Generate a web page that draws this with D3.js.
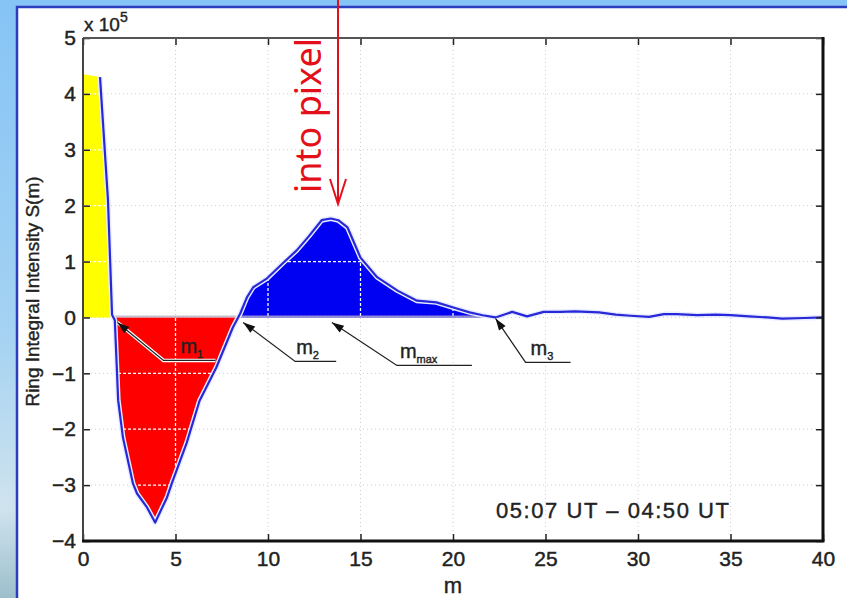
<!DOCTYPE html>
<html>
<head>
<meta charset="utf-8">
<script src="https://cdn.jsdelivr.net/npm/d3@7"></script>
<style>
  html, body { margin: 0; padding: 0; background: #8cc8f5; }
  svg { display: block; }
  .tick text { font-family: "Liberation Sans", Arial, sans-serif; fill: #222; stroke: #222; stroke-width: 0.45; }
  .lbl { stroke: #222; stroke-width: 0.4; }
</style>
</head>
<body>
<div class="chart"></div>
<script>
// ring index m and ring integral intensity S(m), in units of 1e5
const mValues = [0, 0.92, 1.35, 1.57, 1.72, 1.84, 1.9, 2.16, 2.7, 2.92, 3.46, 3.9,
  4.54, 4.8, 5.6, 6.3, 7.2, 8.1, 8.5, 8.86, 9.2, 9.95, 10.8, 11.55, 12.2, 12.9, 13.4,
  13.8, 14.3, 15.0, 15.9, 17.0, 18.05, 19.1, 20.2, 20.9, 21.6, 22.3, 23.2, 24.0, 24.9,
  25.8, 26.6, 27.9, 28.8, 29.6, 30.6, 31.4, 32.1, 33.2, 34.2, 35.0, 36.0, 37.0, 37.8,
  39.0, 40];
const sValues = [4.35, 4.3, 2.1, 0.05, -0.05, -1.0, -1.48, -2.15, -2.97, -3.15, -3.4, -3.67,
  -3.22, -2.97, -2.25, -1.49, -0.9, -0.18, 0.07, 0.36, 0.54, 0.7, 0.97, 1.2, 1.45, 1.74, 1.77,
  1.74, 1.61, 1.07, 0.72, 0.48, 0.3, 0.27, 0.16, 0.09, 0.04, 0.0, 0.1, 0.02, 0.1,
  0.1, 0.11, 0.09, 0.05, 0.03, 0.01, 0.06, 0.06, 0.04, 0.05, 0.04, 0.02, 0.0, -0.02,
  -0.01, 0.0];

const xTicks = [0, 5, 10, 15, 20, 25, 30, 35, 40];
const yTicks = [-4, -3, -2, -1, 0, 1, 2, 3, 4, 5];
const markerNames = [["m", "1"], ["m", "2"], ["m", "max"], ["m", "3"]];
const timeLabel = "05:07 UT \u2013 04:50 UT";
const yLabel = "Ring Integral Intensity S(m)";
const xLabel = "m";
const redNote = "into pixel";

const data = mValues.map((m, i) => ({ m: m, s: sValues[i] }));

const w = 847, h = 598;
const x = d3.scaleLinear().domain([0, 40]).range([83, 823]);
const y = d3.scaleLinear().domain([-4, 5]).range([541, 38]);

const svg = d3.select(".chart").append("svg").attr("width", w).attr("height", h);
const defs = svg.append("defs");

/* background: sky strip + white panel */
const bg = defs.append("linearGradient").attr("id", "sky")
  .attr("x1", 0).attr("y1", 0).attr("x2", 0).attr("y2", 1);
bg.append("stop").attr("offset", "0%").attr("stop-color", "#86c4f6");
bg.append("stop").attr("offset", "55%").attr("stop-color", "#a4d2f2");
bg.append("stop").attr("offset", "85%").attr("stop-color", "#cfe3ee");
bg.append("stop").attr("offset", "100%").attr("stop-color", "#9dbfcc");
svg.append("rect").attr("width", w).attr("height", h).attr("fill", "url(#sky)");
svg.append("rect").attr("x", 17).attr("y", 7).attr("width", w).attr("height", h)
  .attr("fill", "#fff").attr("stroke", "#2b3cbf").attr("stroke-width", 2.5);

/* zero crossings and the secondary maximum */
const crossings = [];
for (let i = 0; i < data.length - 1; i++) {
  const a = data[i], b = data[i + 1];
  if ((a.s > 0) !== (b.s > 0)) {
    crossings.push(a.m + (b.m - a.m) * a.s / (a.s - b.s));
  }
}
const m1 = crossings[0], m2 = crossings[1], m3 = crossings[2];
const lobe = data.filter(d => d.m > m2 && d.m < m3);
const mMax = lobe[d3.maxIndex(lobe, d => d.s)].m;

const region = (a, b) => {
  const pts = data.filter(d => d.m >= a && d.m <= b);
  return [{ m: a, s: 0 }].concat(pts, [{ m: b, s: 0 }]);
};
const area = d3.area().x(d => x(d.m)).y0(y(0)).y1(d => y(d.s));

const regions = [
  { pts: region(0, m1), color: "#ffff00" },
  { pts: region(m1, m2), color: "#ff0000" },
  { pts: region(m2, m3), color: "#0000f2" }
];

/* grid under fills */
const grid = svg.append("g").attr("stroke", "#cfcfcf").attr("stroke-dasharray", "1,3");
grid.selectAll(".gx").data(xTicks.slice(1, -1)).enter().append("line")
  .attr("x1", d => x(d)).attr("x2", d => x(d)).attr("y1", y(5)).attr("y2", y(-4));
grid.selectAll(".gy").data(yTicks.slice(1, -1)).enter().append("line")
  .attr("y1", d => y(d)).attr("y2", d => y(d)).attr("x1", x(0)).attr("x2", x(40));

/* filled lobes */
const clip = defs.append("clipPath").attr("id", "lobes");
regions.forEach(r => {
  svg.append("path").attr("d", area(r.pts)).attr("fill", r.color);
  clip.append("path").attr("d", area(r.pts));
});

/* white dotted grid over the fills */
const wgrid = svg.append("g").attr("clip-path", "url(#lobes)")
  .attr("stroke", "#fff").attr("stroke-width", 1.3).attr("stroke-dasharray", "3,2");
wgrid.selectAll(".wx").data(xTicks.slice(1, -1)).enter().append("line")
  .attr("x1", d => x(d)).attr("x2", d => x(d)).attr("y1", y(5)).attr("y2", y(-4));
wgrid.selectAll(".wy").data(yTicks.slice(1, -1).filter(d => d !== 0)).enter().append("line")
  .attr("y1", d => y(d)).attr("y2", d => y(d)).attr("x1", x(0)).attr("x2", x(40));

/* zero line */
svg.append("line").attr("x1", x(m1)).attr("x2", x(m3)).attr("y1", y(0) - 1).attr("y2", y(0) - 1)
  .attr("stroke", "#b9b0c8").attr("stroke-width", 2).attr("opacity", 0.8);

/* curve with white halo */
const line = d3.line().x(d => x(d.m)).y(d => y(d.s));
const curve = data.slice(1);
svg.append("path").attr("d", line(curve)).attr("fill", "none")
  .attr("stroke", "#e8ecff").attr("stroke-width", 5).attr("stroke-linejoin", "round");
svg.append("path").attr("d", line(curve)).attr("fill", "none")
  .attr("stroke", "#2828d8").attr("stroke-width", 2.2).attr("stroke-linejoin", "round");

/* axes, MATLAB style box with inward ticks */
const fmt = d => d3.format("")(d);
svg.append("g").attr("transform", `translate(0,${y(-4)})`)
  .call(d3.axisBottom(x).tickValues(xTicks).tickSize(-7).tickPadding(9).tickFormat(fmt))
  .call(g => g.select(".domain").remove())
  .call(g => g.selectAll("text").attr("font-size", 21).attr("dy", "0.75em"))
  .call(g => g.selectAll("line").attr("stroke", "#222").attr("stroke-width", 1.5));
svg.append("g").attr("transform", `translate(0,${y(5)})`)
  .call(d3.axisTop(x).tickValues(xTicks).tickSize(-7).tickFormat(""))
  .call(g => g.select(".domain").remove())
  .call(g => g.selectAll("line").attr("stroke", "#222").attr("stroke-width", 1.5));
svg.append("g").attr("transform", `translate(${x(0)},0)`)
  .call(d3.axisLeft(y).tickValues(yTicks).tickSize(-7).tickPadding(7).tickFormat(fmt))
  .call(g => g.select(".domain").remove())
  .call(g => g.selectAll("text").attr("font-size", 21))
  .call(g => g.selectAll("line").attr("stroke", "#222").attr("stroke-width", 1.5));
svg.append("g").attr("transform", `translate(${x(40)},0)`)
  .call(d3.axisRight(y).tickValues(yTicks).tickSize(-7).tickFormat(""))
  .call(g => g.select(".domain").remove())
  .call(g => g.selectAll("line").attr("stroke", "#222").attr("stroke-width", 1.5));

svg.append("line").attr("x1", x(0)).attr("x2", x(40)).attr("y1", y(5)).attr("y2", y(5))
  .attr("stroke", "#555").attr("stroke-width", 2);
svg.append("line").attr("x1", x(0)).attr("x2", x(0)).attr("y1", y(5)).attr("y2", y(-4))
  .attr("stroke", "#444").attr("stroke-width", 2);
svg.append("line").attr("x1", x(0) - 1).attr("x2", x(40) + 1.5).attr("y1", y(-4)).attr("y2", y(-4))
  .attr("stroke", "#111").attr("stroke-width", 3);
svg.append("line").attr("x1", x(40)).attr("x2", x(40)).attr("y1", y(5) - 1).attr("y2", y(-4))
  .attr("stroke", "#111").attr("stroke-width", 3);

/* axis labels */
const textFont = "'Liberation Sans', Arial, sans-serif";
const expo = svg.append("text").attr("class", "lbl").attr("x", 84).attr("y", 31)
  .attr("font-family", textFont).attr("font-size", 19).attr("fill", "#222");
expo.append("tspan").text("x 10");
expo.append("tspan").attr("dy", -9).attr("font-size", 14).text("5");

svg.append("text").attr("class", "lbl")
  .attr("transform", `translate(39,${(y(5) + y(-4)) / 2 + 2}) rotate(-90)`)
  .attr("text-anchor", "middle").attr("font-family", textFont).attr("font-size", 19)
  .attr("fill", "#222").text(yLabel);
svg.append("text").attr("class", "lbl").attr("x", (x(0) + x(40)) / 2).attr("y", 593)
  .attr("text-anchor", "middle").attr("font-family", textFont).attr("font-size", 22)
  .attr("fill", "#222").text(xLabel);

svg.append("text").attr("class", "lbl").attr("x", 496).attr("y", 518)
  .attr("font-family", textFont).attr("font-size", 22).attr("fill", "#222")
  .attr("textLength", 233).attr("lengthAdjust", "spacing").text(timeLabel);

/* m1, m2, mmax, m3 arrows: tip / elbow / end offsets in px from (x(m), y(0)) */
const markerAt = [m1, m2, mMax, m3];
const markerLayout = [
  { tip: [4, 5], elbow: [50, 43], end: 102, label: 67 },
  { tip: [5, 5], elbow: [57, 44], end: 98, label: 58 },
  { tip: [1, 5], elbow: [66, 48], end: 141, label: 69 },
  { tip: [0, 1], elbow: [30, 45], end: 75, label: 35 }
];
markerAt.forEach((m, i) => {
  const px = x(m), py = y(0), L = markerLayout[i];
  const tx = px + L.tip[0], ty = py + L.tip[1];
  const ex = px + L.elbow[0], ey = py + L.elbow[1];
  const g = svg.append("g");
  const pts = `M${tx},${ty}L${ex},${ey}L${px + L.end},${ey}`;
  g.append("path").attr("d", pts).attr("fill", "none").attr("stroke", "#fff")
    .attr("stroke-width", 3.5);
  g.append("path").attr("d", pts).attr("fill", "none").attr("stroke", "#222")
    .attr("stroke-width", 1.3);
  const ang = Math.atan2(ey - ty, ex - tx);
  const len = 12, half = 4;
  const bx = tx + len * Math.cos(ang), by = ty + len * Math.sin(ang);
  const head = [[tx, ty],
    [bx - half * Math.sin(ang), by + half * Math.cos(ang)],
    [bx + half * Math.sin(ang), by - half * Math.cos(ang)]];
  g.append("path").attr("d", "M" + head.join("L") + "Z").attr("fill", "#111");
  const t = g.append("text").attr("class", "lbl").attr("x", px + L.label).attr("y", ey - 7)
    .attr("font-family", textFont).attr("font-size", 20).attr("fill", "#222");
  t.append("tspan").text(markerNames[i][0]);
  t.append("tspan").attr("dy", 5).attr("font-size", 11).text(markerNames[i][1]);
});

/* red overlay note */
const red = "#e3101b";
const noteX = 338;
svg.append("line").attr("x1", noteX).attr("x2", noteX).attr("y1", 0).attr("y2", 204)
  .attr("stroke", red).attr("stroke-width", 2);
svg.append("path").attr("d", `M${noteX - 8},179L${noteX},204L${noteX + 8},179`)
  .attr("fill", "none").attr("stroke", red).attr("stroke-width", 2);
svg.append("text").attr("transform", "translate(321,193) rotate(-90)")
  .attr("font-family", "'Noto Sans', 'Open Sans', sans-serif").attr("font-size", 36)
  .attr("fill", red).text(redNote);
</script>
</body>
</html>
